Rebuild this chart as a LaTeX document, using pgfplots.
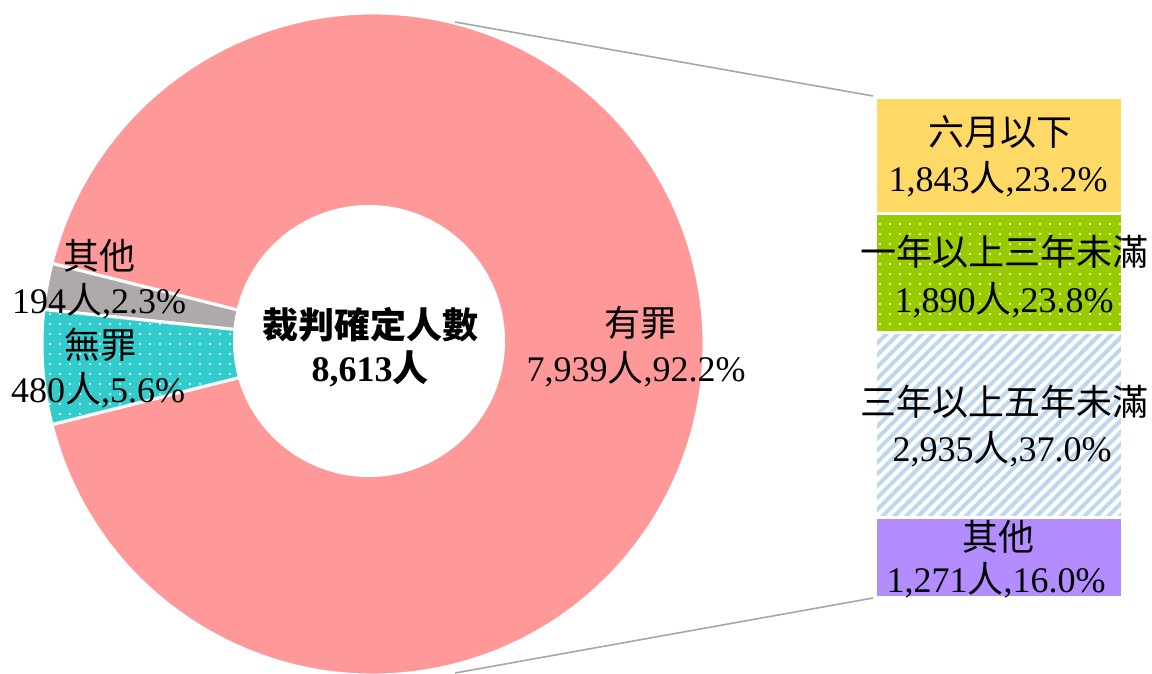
\documentclass[border=0pt]{standalone}
\usepackage{pgfplots}
\pgfplotsset{compat=1.18}
\usepackage{fontspec}
\setmainfont{Liberation Serif}
\newfontfamily\cjk{Noto Sans CJK TC}
\usetikzlibrary{patterns.meta}
\definecolor{cYes}{HTML}{FF9999}
\definecolor{cOther}{HTML}{AEAAAA}
\definecolor{cNo}{HTML}{33CCCC}
\definecolor{cSix}{HTML}{FFD966}
\definecolor{cGreen}{HTML}{99CC00}
\definecolor{cStripe}{HTML}{BDD7EE}
\definecolor{cPurple}{HTML}{B38CFF}
\definecolor{cLine}{HTML}{A6A6A6}
% donut values
\def\vYes{7939}
\def\vOther{194}
\def\vNo{480}
\pgfmathsetmacro\vTot{\vYes+\vOther+\vNo}
\pgfmathsetmacro\aYes{360*(\vYes/\vTot)}
\pgfmathsetmacro\aS{-\aYes/2}
\pgfmathsetmacro\aE{\aYes/2}
\pgfmathsetmacro\aOE{\aE+360*(\vOther/\vTot)}
\pgfmathsetmacro\aNE{\aOE+360*(\vNo/\vTot)}
\newcommand{\lab}[4][]{\node[anchor=base,inner sep=0pt,font=\fontsize{18}{24}\selectfont,#1] at (axis cs:#2,#3) {#4};}
\newcommand{\sector}[3]{\filldraw[draw=white,line width=1.5pt,#3] (axis cs:373,330) -- ++(#1:165.5pt) arc[start angle=#1,end angle=#2,radius=165.5pt] -- cycle;}
\begin{document}
\begin{tikzpicture}
\begin{axis}[scale only axis, width=576pt, height=337pt, hide axis,
  xmin=0, xmax=1152, ymin=0, ymax=674, clip=false]
\sector{\aS}{\aE}{fill=cYes}
\sector{\aE}{\aOE}{fill=cOther}
\sector{\aOE}{\aNE}{fill=cNo,postaction={pattern={Dots[distance=5pt,radius=0.55pt]},pattern color=white}}
\fill[white] (axis cs:369,333) circle[radius=68pt];
\draw[cLine,line width=0.8pt] (axis cs:455,652) -- (axis cs:873,578);
\draw[cLine,line width=0.8pt] (axis cs:455,1) -- (axis cs:873,76);
% labels
\lab[font=\fontsize{18}{24}\selectfont\bfseries]{370}{335}{\cjk 裁判確定人數}
\lab[font=\fontsize{18}{24}\selectfont\bfseries]{370}{292}{8,613{\cjk 人}}
\lab{640}{337}{\cjk 有罪}
\lab{636}{292}{7,939{\cjk 人},92.2\%}
\lab{99}{404}{\cjk 其他}
\lab{99}{360}{194{\cjk 人},2.3\%}
\lab{100}{315}{\cjk 無罪}
\lab{98}{271}{480{\cjk 人},5.6\%}
\end{axis}
\begin{axis}[at={(437.75pt,38.25pt)}, anchor=south west, scale only axis,
  width=123.5pt, height=250pt, hide axis, xmin=0, xmax=1, ymin=0, ymax=7939,
  ybar stacked, bar width=123.5pt, enlargelimits=false, clip=false]
\addplot[fill=cPurple, draw=white, line width=1.5pt] coordinates {(0.5,1271)};
\addplot[fill=white, draw=white, line width=1.5pt, postaction={pattern={Lines[angle=45,distance=4.2pt,line width=2pt]},pattern color=cStripe}] coordinates {(0.5,2935)};
\addplot[fill=cGreen, draw=white, line width=1.5pt, postaction={pattern={Dots[distance=5pt,radius=0.55pt]},pattern color=white}] coordinates {(0.5,1890)};
\addplot[fill=cSix, draw=white, line width=1.5pt] coordinates {(0.5,1843)};
\end{axis}
\begin{axis}[scale only axis, width=576pt, height=337pt, hide axis,
  xmin=0, xmax=1152, ymin=0, ymax=674, clip=false]
\lab{1000}{528}{\cjk 六月以下}
\lab{998}{482}{1,843{\cjk 人},23.2\%}
\lab{1004}{408}{\cjk 一年以上三年未滿}
\lab{1004}{361}{1,890{\cjk 人},23.8\%}
\lab{1004}{258}{\cjk 三年以上五年未滿}
\lab{1002}{212}{2,935{\cjk 人},37.0\%}
\lab{998}{123}{\cjk 其他}
\lab{996}{81}{1,271{\cjk 人},16.0\%}
\end{axis}
\pgfresetboundingbox
\useasboundingbox (0,0) rectangle (576pt,337pt);
\end{tikzpicture}
\end{document}
